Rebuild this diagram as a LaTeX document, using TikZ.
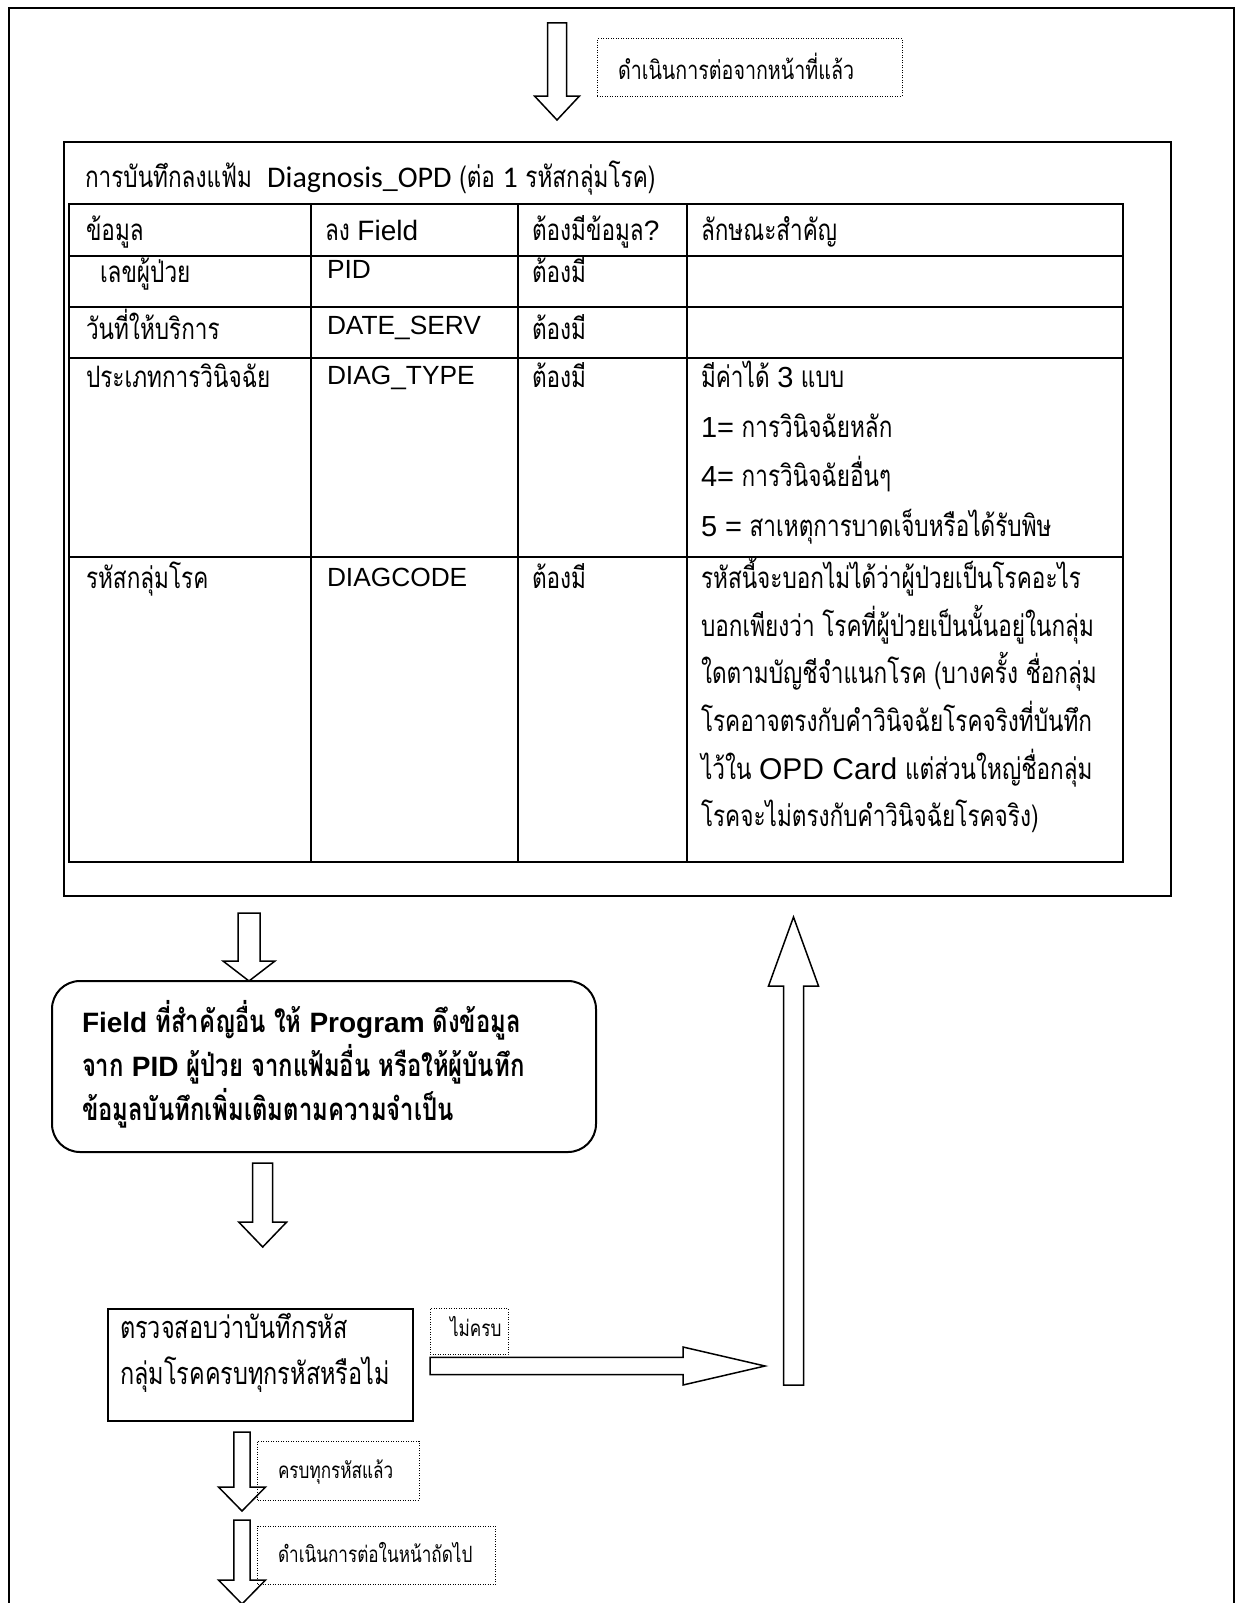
\documentclass[tikz,border=0pt]{standalone}
\usepackage{fontspec}
\setmainfont[Script=Thai,FakeStretch=0.765]{Loma}
\newfontfamily\arialf{Liberation Sans}
\newfontfamily\calibf{Carlito}
\newcommand{\en}[2]{{\arialf\fontsize{#1}{#1}\selectfont #2}}
\newcommand{\cb}[2]{{\calibf\fontsize{#1}{#1}\selectfont #2}}
% hollow block arrows: vertical (x, tail y, head-base y, tip y, shaft half, head half)
\newcommand{\varrow}[6]{\draw[blockarrow] ({#1-#5},#2) -- ({#1+#5},#2) -- ({#1+#5},#3) -- ({#1+#6},#3) -- (#1,#4) -- ({#1-#6},#3) -- ({#1-#5},#3) -- cycle;}
% horizontal (y, tail x, head-base x, tip x, shaft half, head half)
\newcommand{\harrow}[6]{\draw[blockarrow] (#2,{#1-#5}) -- (#3,{#1-#5}) -- (#3,{#1-#6}) -- (#4,#1) -- (#3,{#1+#6}) -- (#3,{#1+#5}) -- (#2,{#1+#5}) -- cycle;}

\begin{document}
\begin{tikzpicture}[x=1pt,y=-1pt,
  every node/.style={inner sep=0pt, outer sep=0pt},
  th/.style={anchor=mid west, font=\fontsize{29.5}{32}\selectfont},
  thbig/.style={anchor=mid west, font=\fontsize{30.7}{33}\selectfont},
  thsmall/.style={anchor=mid west, font=\fontsize{25.7}{28}\selectfont},
  thtiny/.style={anchor=mid west, font=\fontsize{22.4}{25}\selectfont},
  thbold/.style={anchor=mid west, font=\bfseries\fontsize{31.2}{34}\selectfont},
  frameline/.style={line width=1.5pt},
  boxline/.style={draw, line width=2pt},
  dotbox/.style={draw, line width=1pt, dash pattern=on 1pt off 1.5pt},
  blockarrow/.style={draw, line width=1.5pt, fill=white, line join=miter},
  tableline/.style={line width=2.5pt}
]
\useasboundingbox (0,0) rectangle (1236,1603);
\clip (0,0) rectangle (1236,1603);

% page frame, open at the bottom
\draw[frameline] (9,1610) -- (9,8) -- (1234,8) -- (1234,1610);

% continuation from the previous page
\varrow{557}{23}{96}{120}{9.5}{22.5}
\node[dotbox, minimum width=305, minimum height=57] (prevbox) at (749.5,67.5) {};
\node[thsmall] (prevtxt) at (618,77) {ดำเนินการต่อจากหน้าที่แล้ว};

% record box with the Diagnosis_OPD table
\node[boxline, minimum width=1107, minimum height=754] (recbox) at (617.5,519) {};
\node[th] (title) at (85,185) {การบันทึกลงแฟ้ม\ \ \cb{30}{Diagnosis\_OPD} (ต่อ \cb{30}{1} รหัสกลุ่มโรค)};

\draw[tableline] (69,204) rectangle (1123,862);
\foreach \cx in {311,518,687} \draw[tableline] (\cx,204) -- (\cx,862);
\foreach \ry in {256,307,358,557} \draw[tableline] (69,\ry) -- (1123,\ry);

\node[th] (h1) at (86,238) {ข้อมูล};
\node[th] (h2) at (325,238) {ลง \en{28}{Field}};
\node[th] (h3) at (532,238) {ต้องมีข้อมูล\en{28}{?}};
\node[th] (h4) at (701,238) {ลักษณะสำคัญ};

\node[th] (pidA) at (100,280) {เลขผู้ป่วย};
\node[th] (pidB) at (327,276) {\en{26.3}{PID}};
\node[th] (pidC) at (532,280) {ต้องมี};

\node[th] (dateA) at (86,337) {วันที่ให้บริการ};
\node[th] (dateB) at (327,332) {\en{26.3}{DATE\_SERV}};
\node[th] (dateC) at (532,337) {ต้องมี};

\node[th] (typeA) at (86,385) {ประเภทการวินิจฉัย};
\node[th] (typeB) at (327,382) {\en{26.3}{DIAG\_TYPE}};
\node[th] (typeC) at (532,385) {ต้องมี};
\node[th] (typeD1) at (701,385) {มีค่าได้ \en{29}{3} แบบ};
\node[th] (typeD2) at (701,435) {\en{29}{1=} การวินิจฉัยหลัก};
\node[th] (typeD3) at (701,484) {\en{29}{4=} การวินิจฉัยอื่นๆ};
\node[th] (typeD4) at (701,534) {\en{29}{5 =} สาเหตุการบาดเจ็บหรือได้รับพิษ};

\node[th] (codeA) at (86,586) {รหัสกลุ่มโรค};
\node[th] (codeB) at (327,584) {\en{26.3}{DIAGCODE}};
\node[th] (codeC) at (532,586) {ต้องมี};
\node[th] (codeD1) at (701,586) {รหัสนี้จะบอกไม่ได้ว่าผู้ป่วยเป็นโรคอะไร};
\node[th] (codeD2) at (701,633.6) {บอกเพียงว่า โรคที่ผู้ป่วยเป็นนั้นอยู่ในกลุ่ม};
\node[th] (codeD3) at (701,681.2) {ใดตามบัญชีจำแนกโรค (บางครั้ง ชื่อกลุ่ม};
\node[th] (codeD4) at (701,728.8) {โรคอาจตรงกับคำวินิจฉัยโรคจริงที่บันทึก};
\node[th] (codeD5) at (701,776.4) {ไว้ใน \en{30}{OPD Card} แต่ส่วนใหญ่ชื่อกลุ่ม};
\node[th] (codeD6) at (701,824) {โรคจะไม่ตรงกับคำวินิจฉัยโรคจริง)};

% program step
\varrow{249}{913}{961}{981}{11}{26}
\node[boxline, rounded corners=28pt, minimum width=544, minimum height=171] (progbox) at (324,1066.5) {};
\node[thbold] (prog1) at (82,1030) {\en{28}{Field} ที่สำคัญอื่น ให้ \en{28}{Program} ดึงข้อมูล};
\node[thbold] (prog2) at (82,1074) {จาก \en{28}{PID} ผู้ป่วย จากแฟ้มอื่น หรือให้ผู้บันทึก};
\node[thbold] (prog3) at (82,1118) {ข้อมูลบันทึกเพิ่มเติมตามความจำเป็น};

% completeness check
\varrow{262.7}{1163}{1222}{1247}{10}{24}
\node[boxline, minimum width=304.6, minimum height=112.5] (checkbox) at (260.7,1364.75) {};
\node[thbig] (check1) at (120,1336) {ตรวจสอบว่าบันทึกรหัส};
\node[thbig] (check2) at (120,1382) {กลุ่มโรคครบทุกรหัสหรือไม่};

% incomplete: loop back up to the record box
\node[dotbox, minimum width=78, minimum height=46] (nobox) at (469,1331.5) {};
\node[thtiny] (notxt) at (450,1334) {ไม่ครบ};
\harrow{1366}{430}{683}{765}{8.7}{19}
\varrow{793.5}{1385}{986}{917}{10}{25}

% complete: continue to the next page
\varrow{242}{1432}{1487}{1511}{8.2}{23.5}
\node[dotbox, minimum width=161.4, minimum height=59] (donebox) at (338.3,1470.5) {};
\node[thtiny] (donetxt) at (278,1476) {ครบทุกรหัสแล้ว};
\varrow{242}{1520}{1580}{1604}{8.2}{23.5}
\node[dotbox, minimum width=237.4, minimum height=58.6] (nextbox) at (376.3,1555.3) {};
\node[thtiny] (nexttxt) at (278,1560) {ดำเนินการต่อในหน้าถัดไป};
\end{tikzpicture}
\end{document}
